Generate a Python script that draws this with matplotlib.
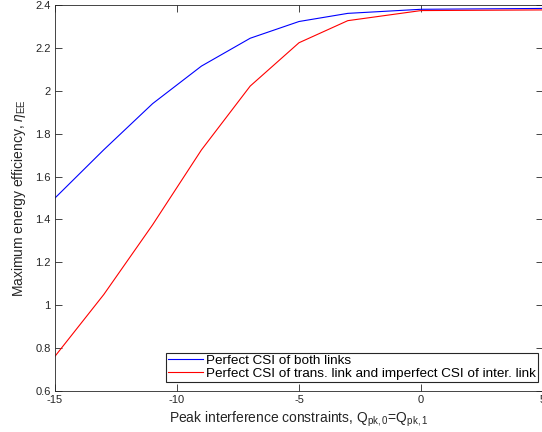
import matplotlib
matplotlib.use("Agg")
import matplotlib.pyplot as plt

# peak interference constraint (dB)
q_pk = [-15, -13, -11, -9, -7, -5, -3, 0, 5]
# max energy efficiency, perfect CSI of both links
ee_perfect = [1.50, 1.725, 1.94, 2.115, 2.245, 2.323, 2.361, 2.380, 2.384]
# perfect CSI of trans. link, imperfect CSI of inter. link
ee_imperfect = [0.762, 1.05, 1.375, 1.724, 2.022, 2.224, 2.327, 2.374, 2.377]

labels = ['Perfect CSI of both links',
          'Perfect CSI of trans. link and imperfect CSI of inter. link']

plt.rcParams['font.family'] = ['Liberation Sans', 'DejaVu Sans']
plt.rcParams['mathtext.fontset'] = 'custom'
plt.rcParams['mathtext.rm'] = 'Liberation Sans'
plt.rcParams['mathtext.it'] = 'Liberation Sans:italic'
plt.rcParams['axes.unicode_minus'] = False

fig = plt.figure(figsize=(5.42, 4.32), dpi=100)
ax = fig.add_axes([55 / 542, 1 - 391 / 432, 488 / 542, 386 / 432])

ax.plot(q_pk, ee_perfect, color='blue', lw=0.8, label=labels[0])
ax.plot(q_pk, ee_imperfect, color='red', lw=0.8, label=labels[1])

ax.set_xlim(-15, 5)
ax.set_ylim(0.6, 2.4)
ax.set_xticks([-15, -10, -5, 0, 5])
ax.set_yticks([0.6, 0.8, 1, 1.2, 1.4, 1.6, 1.8, 2, 2.2, 2.4])
ax.set_yticklabels(['0.6', '0.8', '1', '1.2', '1.4', '1.6', '1.8', '2', '2.2', '2.4'])

ax.tick_params(direction='in', top=True, right=True, length=5, width=0.6,
               labelsize=8, colors='#262626', pad=3)
for s in ax.spines.values():
    s.set_color('#262626')
    s.set_linewidth(0.6)

ax.set_xlabel(r'Peak interference constraints, Q$_\mathregular{pk,0}$=Q$_\mathregular{pk,1}$',
              fontsize=10, color='#262626', labelpad=3)
ax.set_ylabel(r'Maximum energy efficiency, $\eta_\mathregular{EE}$',
              fontsize=10, color='#262626', labelpad=5)

leg = ax.legend(loc='lower right', bbox_to_anchor=(483 / 488, 0.023), fontsize=9.7,
                frameon=True, fancybox=False, framealpha=1, edgecolor='#262626',
                borderpad=0.15, labelspacing=0.05, handlelength=2.6,
                handletextpad=0.2, borderaxespad=0)
leg.get_frame().set_linewidth(0.8)

fig.savefig('out.png', dpi=100)
